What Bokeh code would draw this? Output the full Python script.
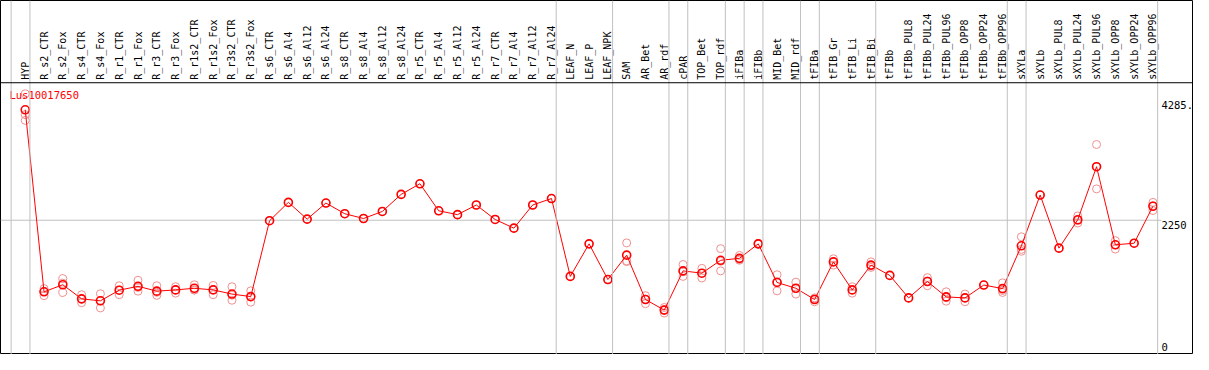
import numpy as np
from bokeh.plotting import figure
from bokeh.models import Range1d, Span
from bokeh.core.properties import value
from bokeh.embed import file_html
from bokeh.resources import INLINE

title = "Lus10017650"

categories = [
    "HYP",
    "R_s2_CTR", "R_s2_Fox", "R_s4_CTR", "R_s4_Fox", "R_r1_CTR", "R_r1_Fox",
    "R_r3_CTR", "R_r3_Fox", "R_r1s2_CTR", "R_r1s2_Fox", "R_r3s2_CTR", "R_r3s2_Fox",
    "R_s6_CTR", "R_s6_Al4", "R_s6_Al12", "R_s6_Al24",
    "R_s8_CTR", "R_s8_Al4", "R_s8_Al12", "R_s8_Al24",
    "R_r5_CTR", "R_r5_Al4", "R_r5_Al12", "R_r5_Al24",
    "R_r7_CTR", "R_r7_Al4", "R_r7_Al12", "R_r7_Al24",
    "LEAF_N", "LEAF_P", "LEAF_NPK",
    "SAM", "AR_Bet", "AR_rdf",
    "cPAR",
    "TOP_Bet", "TOP_rdf",
    "iFIBa",
    "iFIBb",
    "MID_Bet", "MID_rdf",
    "tFIBa",
    "tFIB_Gr", "tFIB_Li", "tFIB_Bi",
    "tFIBb", "tFIBb_PUL8", "tFIBb_PUL24", "tFIBb_PUL96", "tFIBb_OPP8", "tFIBb_OPP24", "tFIBb_OPP96",
    "sXYLa",
    "sXYLb", "sXYLb_PUL8", "sXYLb_PUL24", "sXYLb_PUL96", "sXYLb_OPP8", "sXYLb_OPP24", "sXYLb_OPP96",
]

group_sizes = [1, 28, 3, 3, 1, 2, 1, 1, 2, 1, 3, 7, 1, 7]

means = [
    4114,
    1042, 1161, 923, 890, 1069, 1135, 1053, 1074, 1102, 1074, 1004, 961,
    2242, 2551, 2268, 2540, 2360, 2279, 2398, 2686,
    2865, 2409, 2344, 2507, 2263, 2116, 2507, 2616,
    1302, 1851, 1249,
    1661, 912, 733,
    1395,
    1356, 1574,
    1607,
    1851,
    1200, 1102,
    912,
    1547, 1074, 1493,
    1319, 939, 1216, 956, 939, 1156, 1096,
    1818,
    2675, 1779, 2258, 3153, 1835, 1862, 2486,
]

replicates = [
    [4384, 4032, 3935],
    [1096, 1050, 977], [1265, 1187, 1031], [993, 918, 858], [1009, 891, 770],
    [1144, 1070, 993], [1237, 1115, 1053], [1144, 1033, 982], [1128, 1074, 1020],
    [1161, 1071, 1074], [1150, 1080, 993], [1128, 985, 900], [1058, 957, 868],
    [2242], [2551], [2268], [2540], [2360], [2279], [2398], [2686],
    [2865], [2409], [2344], [2507], [2263], [2116], [2507], [2616],
    [1302], [1851], [1249],
    [1867, 1564, 1552], [977, 917, 842], [777, 738, 684],
    [1503, 1380, 1302],
    [1438, 1355, 1275], [1770, 1557, 1395],
    [1656, 1590, 1575],
    [1860, 1845, 1848],
    [1330, 1212, 1058], [1205, 1097, 1004],
    [939, 923, 874],
    [1600, 1548, 1493], [1128, 1074, 1020], [1547, 1478, 1454],
    [1319], [939], [1281, 1223, 1144], [1042, 942, 884], [1004, 939, 874], [1156], [1193, 1064, 1031],
    [1970, 1758, 1726],
    [2675], [1779], [2323, 2248, 2203], [3528, 3153, 2779], [1905, 1837, 1763], [1862], [2551, 2493, 2414],
]

y_ticks = [0, 2250, 4285]
y_tick_labels = ["0", "2250", "4285."]
y_grid = [2250]

# ---- layout (data units) ----
n = len(categories)
idx = np.arange(n)
x0, x1 = -25 / 19, (1206 - 25) / 19
y0, y1 = -16, 5958
header_y = 4570

p = figure(width=1193, height=354, output_backend="svg", toolbar_location=None,
           x_range=Range1d(x0, x1), y_range=Range1d(y0, y1),
           x_axis_type=None, y_axis_type=None, min_border=0)
p.grid.visible = False
p.outline_line_color = "black"
p.outline_line_width = 1
p.background_fill_color = "white"
p.border_fill_color = "white"

font = value("DejaVu Sans Mono")

# horizontal grid line at 2250 (stops before tick labels)
for g in y_grid:
    p.segment(x0=[x0], y0=[g], x1=[60.45], y1=[g], line_color="#c0c0c0", line_width=1)

# group separators
bounds = np.cumsum([0] + group_sizes) - 1
for b in bounds:
    p.add_layout(Span(location=b + 0.25, dimension="height", line_color="#c0c0c0", line_width=1))

# header separator
p.add_layout(Span(location=header_y, dimension="width", line_color="black", line_width=1))

# category labels (vertical)
p.text(x=idx, y=[header_y] * n, text=categories, angle=np.pi / 2, text_align="left",
       text_baseline="middle", text_font=font, text_font_size="10px", text_color="black",
       y_offset=-3)

# replicates
rx = [i for i, r in enumerate(replicates) for _ in r]
ry = [v for r in replicates for v in r]
p.scatter(rx, ry, marker="circle", size=8, fill_color=None, line_color="#f09090", line_width=1)

# mean line and markers
p.line(idx, means, line_color="red", line_width=1)
p.scatter(idx, means, marker="circle", size=8, fill_color=None, line_color="red", line_width=1.6)

# title
p.text(x=[-0.84], y=[4461], text=[title], text_align="left", text_baseline="top",
       text_font=font, text_font_size="10.5px", text_color="red")

# y tick labels (inside, right)
for t, lab in zip(y_ticks, y_tick_labels):
    p.text(x=[60.45], y=[t], text=[lab], text_align="left",
           text_baseline="bottom" if t == 0 else "top",
           y_offset=-3 if t == 0 else 1,
           text_font=font, text_font_size="10.5px", text_color="black")

open("out.html", "w").write(file_html(p, INLINE))
